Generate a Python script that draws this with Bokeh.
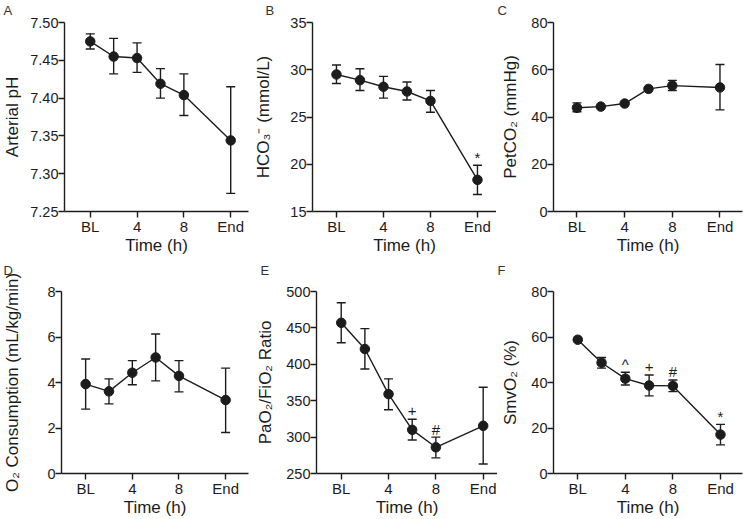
from bokeh.plotting import figure
from bokeh.layouts import column, row
from bokeh.models import (ColumnDataSource, Whisker, TeeHead, FixedTicker, Title,
                          NumeralTickFormatter, Range1d)
from bokeh.core.properties import value
from bokeh.embed import file_html
from bokeh.resources import INLINE

# ---------------- data ----------------
hours = [0, 2, 4, 6, 8, 12]
x_tick_values = [0, 4, 8, 12]
x_tick_labels = ["BL", "4", "8", "End"]

ph_mean = [7.475, 7.455, 7.453, 7.419, 7.404, 7.344]
ph_upper = [7.485, 7.479, 7.473, 7.439, 7.432, 7.415]
ph_lower = [7.465, 7.432, 7.434, 7.400, 7.377, 7.274]
ph_marks = ["", "", "", "", "", ""]

hco3_mean = [29.5, 28.9, 28.2, 27.7, 26.7, 18.35]
hco3_upper = [30.5, 30.1, 29.3, 28.7, 27.8, 19.9]
hco3_lower = [28.55, 27.8, 27.0, 26.8, 25.5, 16.8]
hco3_marks = ["", "", "", "", "", "*"]

petco2_mean = [43.9, 44.4, 45.7, 51.9, 53.3, 52.5]
petco2_upper = [46.0, 44.7, 46.0, 52.2, 55.5, 62.2]
petco2_lower = [42.2, 44.1, 45.4, 51.6, 51.2, 43.0]
petco2_marks = ["", "", "", "", "", ""]

vo2_mean = [3.93, 3.61, 4.43, 5.10, 4.29, 3.23]
vo2_upper = [5.03, 4.16, 4.96, 6.13, 4.96, 4.63]
vo2_lower = [2.83, 3.06, 3.90, 4.07, 3.59, 1.80]
vo2_marks = ["", "", "", "", "", ""]

pf_mean = [457, 421, 359, 310, 286, 315.5]
pf_upper = [484.5, 449, 380, 324.5, 300, 368.5]
pf_lower = [429.5, 393.5, 337.5, 296, 271.5, 263]
pf_marks = ["", "", "", "+", "#", ""]

smvo2_mean = [58.8, 48.7, 41.7, 38.7, 38.5, 17.1]
smvo2_upper = [59.1, 51.0, 44.5, 43.3, 41.1, 21.6]
smvo2_lower = [58.5, 46.3, 38.9, 34.1, 36.0, 12.6]
smvo2_marks = ["", "", "^", "+", "#", "*"]

ph_ticks = [7.25, 7.30, 7.35, 7.40, 7.45, 7.50]
hco3_ticks = [15, 20, 25, 30, 35]
petco2_ticks = [0, 20, 40, 60, 80]
vo2_ticks = [0, 2, 4, 6, 8]
pf_ticks = [250, 300, 350, 400, 450, 500]
smvo2_ticks = [0, 20, 40, 60, 80]

FONT = "Liberation Sans"
INK = "#1c1c1c"


def make_panel(letter, ylabel, mean, upper, lower, marks, yticks, yfmt,
               width, height, bl, br, bt, bb, xr, label_standoff, letter_dx, spacer_px):
    src = ColumnDataSource(dict(x=hours, mean=mean, upper=upper, lower=lower, mark=marks))
    p = figure(width=width, height=height, output_backend="svg", toolbar_location=None,
               x_range=Range1d(*xr), y_range=Range1d(yticks[0], yticks[-1]),
               min_border_left=bl, min_border_right=br, min_border_top=bt,
               min_border_bottom=bb, tools="")
    # panel letter as the (outermost) title; an empty title next to the frame lifts it
    p.title = Title(text=letter, align="left", offset=letter_dx, standoff=0,
                    text_font=FONT, text_font_size="13px", text_font_style="normal",
                    text_color="#333333")
    p.add_layout(Title(text=" ", text_font=FONT, text_font_size=f"{spacer_px}px",
                       standoff=0), "above")
    p.outline_line_color = None
    p.grid.visible = False
    p.background_fill_color = "white"
    p.border_fill_color = "white"

    for ax in (p.xaxis[0], p.yaxis[0]):
        ax.axis_line_width = 1.4
        ax.axis_line_color = INK
        ax.major_tick_line_width = 1.4
        ax.major_tick_line_color = INK
        ax.major_tick_out = 6
        ax.major_tick_in = 0
        ax.minor_tick_out = 0
        ax.minor_tick_in = 0
        ax.major_label_text_font = FONT
        ax.major_label_text_color = INK
        ax.axis_label_text_font = FONT
        ax.axis_label_text_font_size = "17px"
        ax.axis_label_text_font_style = "normal"
        ax.axis_label_text_color = INK

    p.xaxis.ticker = FixedTicker(ticks=x_tick_values)
    p.xaxis.major_label_overrides = dict(zip(x_tick_values, x_tick_labels))
    p.xaxis.axis_label = "Time (h)"
    p.xaxis.major_label_text_font_size = "15px"
    p.xaxis.major_label_standoff = 0
    p.xaxis.axis_label_standoff = -2
    p.yaxis.ticker = FixedTicker(ticks=yticks)
    p.yaxis.formatter = NumeralTickFormatter(format=yfmt)
    p.yaxis.axis_label = ylabel
    p.yaxis.major_label_text_font_size = "14.5px"
    p.yaxis.major_label_standoff = 0
    p.yaxis.axis_label_standoff = label_standoff

    whisk = Whisker(source=src, base="x", upper="upper", lower="lower",
                    line_width=1.4, line_color=INK,
                    upper_head=TeeHead(size=9, line_width=1.4, line_color=INK),
                    lower_head=TeeHead(size=9, line_width=1.4, line_color=INK))
    p.add_layout(whisk)
    p.line("x", "mean", source=src, line_width=1.4, line_color=INK)
    p.scatter("x", "mean", source=src, size=9.5, fill_color=INK, line_color=INK)
    p.text(x="x", y="upper", text="mark", source=src, text_font=value(FONT),
           text_font_size="15px", text_color=INK, text_align="center",
           text_baseline="alphabetic", y_offset=-8)
    return p


pa = make_panel("A", "Arterial pH", ph_mean, ph_upper, ph_lower, ph_marks, ph_ticks, "0.00",
                250, 260, 62, 2, 22, 49, (-2.2, 13.52), 5, -61, 3)
pb = make_panel("B", "HCO\u2083\u207b (mmol/L)", hco3_mean, hco3_upper, hco3_lower, hco3_marks,
                hco3_ticks, "0", 246, 260, 62, 0, 22, 49, (-2.04, 13.62), 14, -47, 3)
pc = make_panel("C", "PetCO\u2082 (mmHg)", petco2_mean, petco2_upper, petco2_lower, petco2_marks,
                petco2_ticks, "0", 249, 260, 57, 3, 22, 49, (-1.97, 13.89), 8, -56, 3)
pd_ = make_panel("D", "O\u2082 Consumption (mL/kg/min)", vo2_mean, vo2_upper, vo2_lower, vo2_marks,
                 vo2_ticks, "0", 250, 259, 60, 2, 29, 41, (-2.07, 13.96), 22, -58, 11)
pe = make_panel("E", "PaO\u2082/FiO\u2082 Ratio", pf_mean, pf_upper, pf_lower, pf_marks,
                pf_ticks, "0", 247, 259, 66, 0, 29, 41, (-2.09, 13.21), 8, -56, 11)
pf = make_panel("F", "SmvO\u2082 (%)", smvo2_mean, smvo2_upper, smvo2_lower, smvo2_marks,
                smvo2_ticks, "0", 248, 259, 56, 3, 29, 41, (-2.04, 13.85), 8, -56, 11)

layout = column(row(pa, pb, pc), row(pd_, pe, pf))
open("out.html", "w").write(file_html(layout, INLINE))
